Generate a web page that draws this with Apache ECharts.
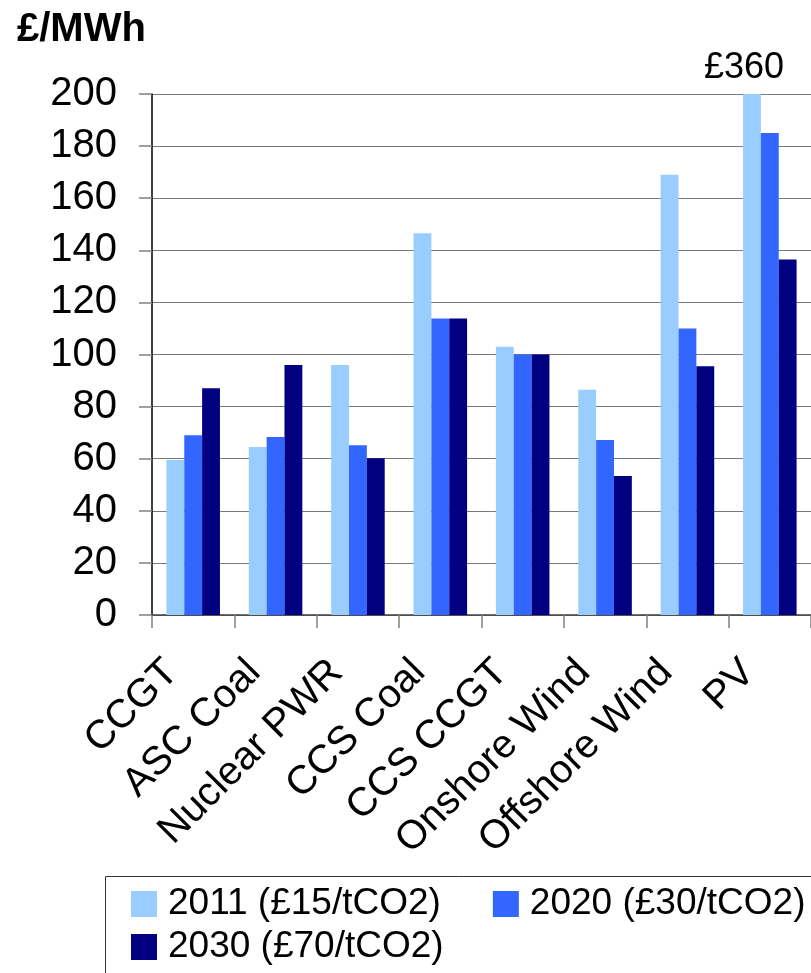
<!DOCTYPE html>
<html><head><meta charset="utf-8">
<script src="https://cdn.jsdelivr.net/npm/echarts@6/dist/echarts.min.js"></script>
<style>html,body{margin:0;padding:0;background:#fff}#c{width:811px;height:973px}</style>
</head><body><div id="c"></div>
<script>
const categories = ['CCGT','ASC Coal','Nuclear PWR','CCS Coal','CCS CCGT','Onshore Wind','Offshore Wind','PV'];
const seriesNames = ['2011 (£15/tCO2)','2020 (£30/tCO2)','2030 (£70/tCO2)'];
const v2011 = [59.5, 64.5, 96, 146.5, 103, 86.5, 169, 360];
const v2020 = [69, 68.3, 65.2, 113.8, 100, 67.2, 110, 185];
const v2030 = [87, 96, 60.2, 113.8, 100, 53.4, 95.5, 136.5];
const yTicks = {min: 0, max: 200, interval: 20};
const offscaleLabel = {category: 'PV', value: 360, shownAt: 200};
const colors = ['#99CCFF','#3366FF','#000080'];
const FONT = 'Liberation Sans';

const chart = echarts.init(document.getElementById('c'));
const mk = (name, data, i) => ({
  name, type: 'bar', data, barGap: '0%', barCategoryGap: '35%',
  itemStyle: {color: colors[i]}, clip: true, animation: false
});
const s0 = mk(seriesNames[0], v2011, 0);
s0.markPoint = {
  symbol: 'rect', symbolSize: 1, itemStyle: {color: 'rgba(0,0,0,0)'},
  data: [{coord: [offscaleLabel.category, offscaleLabel.shownAt], value: offscaleLabel.value}],
  label: {show: true, position: 'top', distance: 4, offset: [-8, -3],
    formatter: p => '£' + p.value, color: '#000', fontSize: 36, fontFamily: FONT}
};
chart.setOption({
  animation: false,
  textStyle: {fontFamily: FONT},
  title: {text: '£/MWh', left: 12, top: 5,
    textStyle: {fontSize: 40, fontWeight: 'bold', color: '#000', fontFamily: FONT}},
  grid: {left: 152, top: 94, bottom: 358, width: 668, containLabel: false},
  xAxis: {
    type: 'category', data: categories,
    axisLine: {lineStyle: {color: '#404040', width: 1.5}},
    axisTick: {show: true, length: 13, lineStyle: {color: '#808080', width: 1.5}, alignWithLabel: false},
    axisLabel: {rotate: 45, interval: 0, margin: 30, padding: [0, 30, 0, 0],
      fontSize: 40, color: '#000', fontFamily: FONT}
  },
  yAxis: {
    type: 'value', min: yTicks.min, max: yTicks.max, interval: yTicks.interval,
    axisLine: {show: true, lineStyle: {color: '#000', width: 1.5}},
    axisTick: {show: true, length: 13, lineStyle: {color: '#808080', width: 1.5}},
    axisLabel: {margin: 35, fontSize: 40, color: '#000', fontFamily: FONT},
    splitLine: {show: true, lineStyle: {color: '#7a7a7a', width: 1.2}}
  },
  legend: [
    {data: [seriesNames[0], seriesNames[1]], left: 131, top: 884, padding: 0,
     itemWidth: 26, itemHeight: 26, itemGap: 52, icon: 'rect',
     textStyle: {fontSize: 37, color: '#000', fontFamily: FONT, lineHeight: 40, padding: [0,0,0,6]}},
    {data: [seriesNames[2]], left: 131, top: 927, padding: 0,
     itemWidth: 26, itemHeight: 26, itemGap: 52, icon: 'rect',
     textStyle: {fontSize: 37, color: '#000', fontFamily: FONT, lineHeight: 40, padding: [0,0,0,6]}}
  ],
  graphic: [{type: 'rect', shape: {x: 105.5, y: 876.5, width: 800, height: 200},
    style: {fill: 'none', stroke: '#333', lineWidth: 1}, silent: true, z: -1}],
  series: [s0, mk(seriesNames[1], v2020, 1), mk(seriesNames[2], v2030, 2)]
});
</script></body></html>
